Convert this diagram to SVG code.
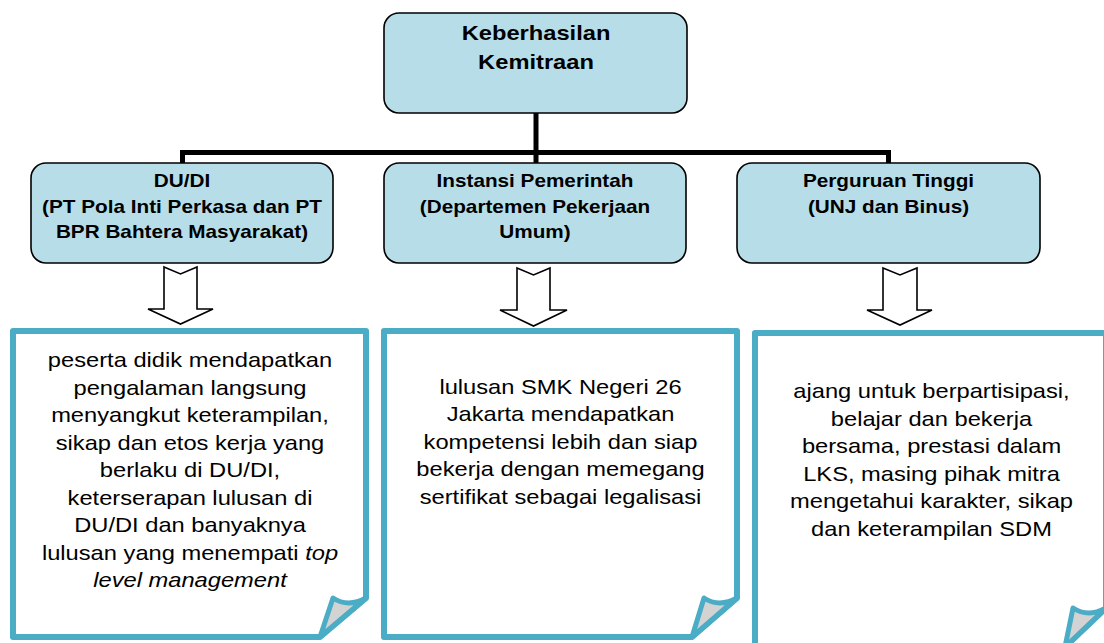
<svg xmlns="http://www.w3.org/2000/svg" width="1104" height="643" viewBox="0 0 1104 643">
<style>
.node{fill:#B7DEE8;stroke:#000;stroke-width:1.6}
.t{font-family:"Liberation Sans",Arial,sans-serif;fill:#000;text-anchor:middle}
.b{font-weight:bold}
.note{fill:#fff;stroke:#4BACC6;stroke-width:6;stroke-linejoin:round}
.fold{fill:#D3D3D3;stroke:#4BACC6;stroke-width:5;stroke-linejoin:round}
.barr{fill:#fff;stroke:#000;stroke-width:1.6;stroke-linejoin:miter}
.con{stroke:#000;stroke-width:5;fill:none}
</style>
<rect width="1104" height="643" fill="#fff"/>
<g id="connectors">
<path class="con" d="M536,113 V163"/>
<path class="con" d="M182.5,163 V152.5 H888.5 V163"/>
<path class="barr" d="M164,267 L180.5,274 L197,267 V309 H213 L180.5,324 L148,309 H164 Z"/>
<path class="barr" d="M517,268 L533.5,275 L550,268 V310 H567 L533.5,326 L500,310 H517 Z"/>
<path class="barr" d="M883,268 L900,275 L917,268 V310 H932 L900,325 L867,310 H883 Z"/>
</g>
<g id="root">
<rect class="node" x="384" y="13" width="303" height="100" rx="15"/>
<g transform="translate(536 0) scale(1.185 1)" class="t b" font-size="20">
<text x="0" y="40.5">Keberhasilan</text>
<text x="0" y="69.5">Kemitraan</text>
</g>
</g>
<g id="dudi">
<rect class="node" x="31" y="163" width="302" height="100" rx="15"/>
<g transform="translate(182 0) scale(1.185 1)" class="t b" font-size="17.5">
<text x="0" y="187.5">DU/DI</text>
<text x="0" y="213">(PT Pola Inti Perkasa dan PT</text>
<text x="0" y="238.5">BPR Bahtera Masyarakat)</text>
</g>
</g>
<g id="instansi">
<rect class="node" x="384" y="163" width="302" height="100" rx="15"/>
<g transform="translate(535 0) scale(1.185 1)" class="t b" font-size="17.5">
<text x="0" y="187.5">Instansi Pemerintah</text>
<text x="0" y="213">(Departemen Pekerjaan</text>
<text x="0" y="238.5">Umum)</text>
</g>
</g>
<g id="pt">
<rect class="node" x="737" y="163" width="303" height="100" rx="15"/>
<g transform="translate(888.5 0) scale(1.185 1)" class="t b" font-size="17.5">
<text x="0" y="187.5">Perguruan Tinggi</text>
<text x="0" y="213">(UNJ dan Binus)</text>
</g>
</g>
<g id="note1">
<path class="note" d="M13,331 H366 V598 L320,637 H13 Z"/>
<path class="fold" d="M320,637 L333,598 Q348,608 366,598 Z"/>
<g transform="translate(190 0) scale(1.185 1)" class="t" font-size="20">
<text x="0" y="367.5">peserta didik mendapatkan</text>
<text x="0" y="395">pengalaman langsung</text>
<text x="0" y="422.5">menyangkut keterampilan,</text>
<text x="0" y="450">sikap dan etos kerja yang</text>
<text x="0" y="477.5">berlaku di DU/DI,</text>
<text x="0" y="505">keterserapan lulusan di</text>
<text x="0" y="532.5">DU/DI dan banyaknya</text>
<text x="0" y="560">lulusan yang menempati <tspan font-style="italic">top</tspan></text>
<text x="0" y="587" font-style="italic">level management</text>
</g>
</g>
<g id="note2">
<path class="note" d="M384,331 H737 V598 L692,637 H384 Z"/>
<path class="fold" d="M692,637 L704,598 Q719,608 737,598 Z"/>
<g transform="translate(560.5 0) scale(1.185 1)" class="t" font-size="20">
<text x="0" y="394">lulusan SMK Negeri 26</text>
<text x="0" y="421.5">Jakarta mendapatkan</text>
<text x="0" y="449">kompetensi lebih dan siap</text>
<text x="0" y="476.5">bekerja dengan memegang</text>
<text x="0" y="504">sertifikat sebagai legalisasi</text>
</g>
</g>
<g id="note3">
<path class="note" d="M755,333 H1106 V608 L1065,647 H755 Z"/>
<path class="fold" d="M1065,647 L1073,608 Q1088,618 1106,608 Z"/>
<g transform="translate(931.5 0) scale(1.185 1)" class="t" font-size="20">
<text x="0" y="398.5">ajang untuk berpartisipasi,</text>
<text x="0" y="426">belajar dan bekerja</text>
<text x="0" y="453.5">bersama, prestasi dalam</text>
<text x="0" y="481">LKS, masing pihak mitra</text>
<text x="0" y="508.5">mengetahui karakter, sikap</text>
<text x="0" y="536">dan keterampilan SDM</text>
</g>
</g>
</svg>
